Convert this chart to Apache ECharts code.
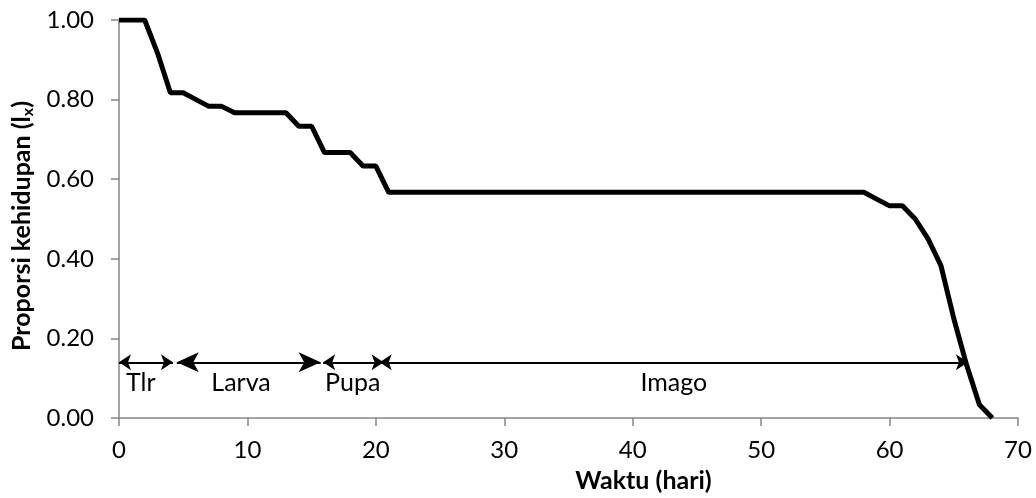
<!DOCTYPE html>
<html>
<head>
<meta charset="utf-8">
<script src="https://cdn.jsdelivr.net/npm/echarts@6/dist/echarts.min.js"></script>
<style>
  html, body { margin: 0; padding: 0; background: #fff; }
  #myChart { width: 1036px; height: 498px; }
</style>
</head>
<body>
<div id="myChart"></div>
<script>
  // hari ke-0 .. ke-68
  var days = [0, 1, 2, 3, 4, 5, 6, 7, 8, 9, 10, 11, 12, 13, 14, 15, 16, 17, 18, 19, 20,
    21, 22, 23, 24, 25, 26, 27, 28, 29, 30, 31, 32, 33, 34, 35, 36, 37, 38, 39, 40,
    41, 42, 43, 44, 45, 46, 47, 48, 49, 50, 51, 52, 53, 54, 55, 56, 57, 58, 59, 60,
    61, 62, 63, 64, 65, 66, 67, 68]
  // proporsi kehidupan (lx)
  var lx = [1.000, 1.000, 1.000, 0.917, 0.817, 0.817, 0.800, 0.783, 0.783, 0.767, 0.767,
    0.767, 0.767, 0.767, 0.733, 0.733, 0.667, 0.667, 0.667, 0.633, 0.633,
    0.567, 0.567, 0.567, 0.567, 0.567, 0.567, 0.567, 0.567, 0.567, 0.567,
    0.567, 0.567, 0.567, 0.567, 0.567, 0.567, 0.567, 0.567, 0.567, 0.567,
    0.567, 0.567, 0.567, 0.567, 0.567, 0.567, 0.567, 0.567, 0.567, 0.567,
    0.567, 0.567, 0.567, 0.567, 0.567, 0.567, 0.567, 0.567, 0.550, 0.533,
    0.533, 0.500, 0.450, 0.383, 0.250, 0.133, 0.033, 0.000]

  // stadia perkembangan (panah)
  var stages = ['Tlr', 'Larva', 'Pupa', 'Imago']
  var stageStart = [0, 4.5, 15.9, 20.3]
  var stageEnd = [4.2, 15.7, 20.6, 66.1]
  var stageLabelX = [1.7, 9.5, 18.2, 43.2]
  var arrowLevel = 0.14
  var labelLevel = 0.088

  var font = 'Lato, "Open Sans", sans-serif'
  var axisColor = '#868686'

  var lineData = days.map(function (d, i) { return [d, lx[i]] })

  var arrowData = stages.map(function (s, i) {
    var size = s === 'Larva' ? [15, 22] : [12, 12]
    return [
      { coord: [stageStart[i], arrowLevel], symbolSize: size },
      { coord: [stageEnd[i], arrowLevel], symbolSize: size }
    ]
  })

  var labelData = stages.map(function (s, i) {
    return { name: s, value: [stageLabelX[i], labelLevel] }
  })

  var myChart = echarts.init(document.getElementById('myChart'))
  myChart.setOption({
    animation: false,
    textStyle: { fontFamily: font },
    grid: { left: 119, right: 18, top: 20, bottom: 80 },
    xAxis: {
      type: 'value',
      min: 0,
      max: 70,
      interval: 10,
      name: 'Waktu (hari)',
      nameLocation: 'middle',
      nameGap: 50,
      nameTextStyle: {
        fontFamily: font, fontSize: 25, fontWeight: 'bold', color: '#000',
        padding: [0, 0, 0, 150]
      },
      splitLine: { show: false },
      axisLine: { lineStyle: { color: axisColor, width: 1.5 } },
      axisTick: { show: true, length: 8, lineStyle: { color: axisColor, width: 1.5 } },
      axisLabel: { fontFamily: font, fontSize: 24, color: '#000', margin: 20 }
    },
    yAxis: {
      type: 'value',
      min: 0,
      max: 1,
      interval: 0.2,
      name: '{a|Proporsi kehidupan (l}{b|x}{a|)}',
      nameLocation: 'middle',
      nameGap: 78,
      nameTextStyle: {
        padding: [0, 14, 0, 0],
        rich: {
          a: { fontFamily: font, fontSize: 25, fontWeight: 'bold', color: '#000' },
          b: { fontFamily: font, fontSize: 16, fontWeight: 'bold', color: '#000', padding: [12, 0, 0, 0] }
        }
      },
      splitLine: { show: false },
      axisLine: { show: true, lineStyle: { color: axisColor, width: 1.5 } },
      axisTick: { show: true, length: 8, lineStyle: { color: axisColor, width: 1.5 } },
      axisLabel: {
        fontFamily: font, fontSize: 24, color: '#000', margin: 25,
        formatter: function (v) { return v.toFixed(2) }
      }
    },
    series: [
      {
        name: 'lx',
        type: 'line',
        data: lineData,
        symbol: 'none',
        lineStyle: { color: '#000', width: 5 },
        markLine: {
          silent: true,
          symbol: ['arrow', 'arrow'],
          lineStyle: { color: '#000', width: 2, type: 'solid' },
          label: { show: false },
          data: arrowData
        }
      },
      {
        name: 'stadia',
        type: 'scatter',
        data: labelData,
        symbolSize: 0,
        silent: true,
        itemStyle: { opacity: 1 },
        label: {
          show: true,
          position: 'inside',
          formatter: '{b}',
          fontFamily: font,
          fontSize: 25,
          color: '#000',
          opacity: 1
        }
      }
    ]
  })
</script>
</body>
</html>
